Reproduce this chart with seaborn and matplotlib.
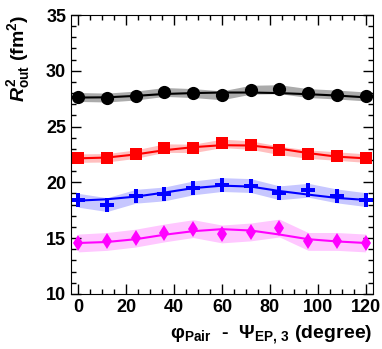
import numpy as np
import pandas as pd
import matplotlib
matplotlib.use('Agg')
import matplotlib.pyplot as plt
import seaborn as sns
from matplotlib.ticker import MultipleLocator

# angle bins (degree)
phi = [0, 12, 24, 36, 48, 60, 72, 84, 96, 108, 120]

# measured R_out^2 values (fm^2)
r_black = [27.65, 27.6, 27.78, 28.1, 28.0, 27.8, 28.3, 28.35, 28.0, 27.87, 27.7]
r_red = [22.17, 22.2, 22.53, 23.07, 23.04, 23.49, 23.34, 22.86, 22.53, 22.35, 22.17]
r_blue = [18.39, 18.0, 18.75, 18.96, 19.5, 19.8, 19.71, 19.06, 19.29, 18.78, 18.45]
r_mag = [14.56, 14.7, 15.0, 15.46, 15.85, 15.37, 15.55, 15.9, 14.7, 14.7, 14.56]

# fit curves read at the same bins
fit_black = [27.6, 27.62, 27.75, 27.92, 28.0, 28.05, 28.05, 28.0, 27.9, 27.78, 27.62]
fit_red = [22.15, 22.22, 22.5, 22.88, 23.15, 23.33, 23.3, 23.02, 22.62, 22.3, 22.15]
fit_blue = [18.36, 18.48, 18.72, 19.08, 19.48, 19.7, 19.62, 19.22, 18.9, 18.6, 18.42]
fit_mag = [14.56, 14.65, 14.9, 15.3, 15.62, 15.8, 15.68, 15.32, 14.9, 14.7, 14.56]

# systematic band half widths
err_black = 0.4
err_red = 0.38
err_blue = 0.62
err_mag = 0.8

series = [
    ('black', r_black, fit_black, err_black, 'black', 'o', 9.5, 0.33),
    ('red', r_red, fit_red, err_red, '#ff0000', 's', 9, 0.25),
    ('blue', r_blue, fit_blue, err_blue, '#0000ff', 'P', 10, 0.22),
    ('mag', r_mag, fit_mag, err_mag, '#ff00ff', 'd', 8, 0.22),
]

plt.rcParams['font.family'] = ['Liberation Sans', 'DejaVu Sans']
plt.rcParams['font.weight'] = 'bold'
plt.rcParams['mathtext.fontset'] = 'custom'
plt.rcParams['mathtext.rm'] = 'Liberation Sans:bold'
plt.rcParams['mathtext.bf'] = 'Liberation Sans:bold'
plt.rcParams['mathtext.it'] = 'Liberation Sans:italic:bold'
plt.rcParams['mathtext.sf'] = 'Liberation Sans:bold'

fig = plt.figure(figsize=(3.82, 3.49), dpi=100)
ax = fig.add_axes([0.186, 0.158, 0.79, 0.799])

for name, vals, fit, err, col, mk, ms, alpha in series:
    df = pd.DataFrame({'phi': phi, 'r': vals, 'fit': fit})
    ax.fill_between(df['phi'], df['r'] - err, df['r'] + err, color=col,
                    alpha=alpha, linewidth=0)
    sns.lineplot(data=df, x='phi', y='fit', color=col, linewidth=1.5, ax=ax)
    ax.plot(df['phi'], df['r'], linestyle='none', marker=mk, markersize=ms,
            color=col, markeredgewidth=0)

ax.set_xlim(-3, 123)
ax.set_ylim(10, 35)
ax.xaxis.set_major_locator(MultipleLocator(20))
ax.xaxis.set_minor_locator(MultipleLocator(5))
ax.yaxis.set_major_locator(MultipleLocator(5))
ax.yaxis.set_minor_locator(MultipleLocator(1))
ax.tick_params(which='both', direction='in', top=True, right=True, labelsize=13)
ax.tick_params(which='major', length=7, width=1)
ax.tick_params(which='minor', length=3.5, width=1)
for lab in ax.get_xticklabels() + ax.get_yticklabels():
    lab.set_fontweight('bold')

ax.set_xlabel(r'$\mathrm{\varphi_{Pair}}$  -  $\mathrm{\Psi_{EP,\,3}}$ (degree)',
              fontsize=14, fontweight='bold', loc='right', labelpad=5)
ax.set_ylabel(r'$R^{2}_{\mathrm{out}}$ (fm$^{2}$)', fontsize=14,
              fontweight='bold', loc='top', labelpad=10)

fig.savefig('out.png', dpi=100)
